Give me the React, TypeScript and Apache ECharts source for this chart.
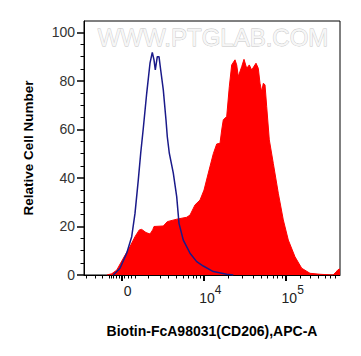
import React, { useEffect, useRef } from "react";
import * as echarts from "echarts";

// Histogram data in display channels (0..256 across the logicle axis) and relative counts
const redCh = [23, 27.7, 32.7, 39.3, 46, 51, 55.3, 57.7, 62, 66, 68.7, 70, 79.3, 83.3, 92.7, 102.7, 106, 111, 116, 120, 124.3, 129.3, 132.7, 136, 137.7, 139.3, 142.7, 145.3, 147.7, 151, 152.7, 154.3, 157.7, 160, 162.7, 165.3, 167.7, 172, 174.3, 176, 177.7, 179.3, 181, 182.7, 185.3, 189.3, 194.3, 199.3, 204.3, 211, 217.7, 226, 236, 249, 252, 254, 256];
const redCount = [0, 0.5, 2, 6.9, 11.7, 15.8, 18.6, 18.8, 17.5, 16.9, 18.6, 20, 20.2, 22, 23, 23.8, 24.7, 28.9, 30.9, 35, 42, 50, 54, 54.3, 59.8, 64, 65.3, 77.6, 86.6, 88.7, 86.6, 81.8, 85.9, 88.9, 85.2, 86.6, 84.5, 87.3, 85.2, 79, 75.6, 79, 78.4, 69.4, 55.7, 46, 33.7, 22.7, 14.4, 7.5, 2.8, 0.7, 0.3, 0, 1.2, 2.2, 2.5];

const blueCh = [29.3, 36, 42.7, 47.7, 51, 54.3, 56.7, 59.3, 62.7, 66, 68.3, 70, 71.3, 73.3, 75, 76.7, 79.3, 82, 83.3, 85.3, 89.3, 92.7, 95, 99.3, 106, 112.7, 119.3, 129.3, 142.7, 149.3];
const blueCount = [0, 2.8, 9, 15.8, 25.4, 39.2, 50.2, 60.5, 74.9, 87.3, 91.8, 88.7, 84.5, 90, 90, 84.5, 76.3, 63.9, 57, 50.2, 42, 32.3, 21.3, 14.4, 9, 5.5, 3.7, 1.4, 0.3, 0];

// Axis ticks (channel positions of the logicle axis)
const xMajorTicks = [37.7, 119.3, 201.7];
const xTickLabels = ["0", "10^4", "10^5"];
const xMinorTicks = [2, 11, 18.7, 25, 27, 29, 32, 35.5, 40.5, 44.3, 47.7, 51, 64.3, 76, 84.3, 92.7, 99.3, 104.3, 109.3, 112.7, 116, 144, 158.6, 169, 177, 183.4, 189, 193.7, 197.9, 216, 226.5, 234, 241, 246.5, 251.3];
const yMajorTicks = [0, 20, 40, 60, 80, 100];
const yMinorTicks = [5, 10, 15, 25, 30, 35, 45, 50, 55, 65, 70, 75, 85, 90, 95];

const FONT = "'Liberation Sans', Arial, Helvetica, sans-serif";

function zip(xs: number[], ys: number[]) {
  return xs.map((x, i) => [x, ys[i]]);
}

export default function App() {
  const ref = useRef<HTMLDivElement>(null);
  useEffect(() => {
    if (!ref.current) return;
    const chart = echarts.init(ref.current, undefined, { renderer: "svg" });
    const xMin = 0;
    const xMax = 256;
    const yMax = 104.7;
    chart.setOption({
      animation: false,
      backgroundColor: "#ffffff",
      grid: {
        left: 84,
        right: 21,
        top: 21,
        bottom: 81,
        show: true,
        borderColor: "#000",
        borderWidth: 1,
        backgroundColor: "transparent",
      },
      graphic: [
        {
          type: "text",
          x: 213,
          y: 37,
          z: 0,
          style: {
            text: "WWW.PTGLAB.COM",
            font: `24px ${FONT}`,
            fill: "#f6f6f6",
            stroke: "#c4c4c4",
            lineWidth: 0.8,
            textAlign: "center",
            textVerticalAlign: "middle",
          },
        },
      ],
      xAxis: [
        {
          type: "value",
          min: xMin,
          max: xMax,
          position: "bottom",
          splitLine: { show: false },
          axisLine: { show: true, onZero: false, lineStyle: { color: "#000", width: 1 } },
          axisTick: { show: true, customValues: xMajorTicks, length: 6, lineStyle: { color: "#000", width: 2 } },
          axisLabel: {
            show: true,
            customValues: xMajorTicks,
            margin: 9,
            formatter: (v: number) => {
              let idx = 0;
              let best = Infinity;
              xMajorTicks.forEach((t, i) => {
                const d = Math.abs(t - v);
                if (d < best) { best = d; idx = i; }
              });
              const lab = xTickLabels[idx];
              if (lab.indexOf("^") >= 0) {
                const [b, s] = lab.split("^");
                return `{b|${b}}{s|${s}}`;
              }
              return `{z|${lab}}`;
            },
            rich: {
              b: { fontSize: 14, fontFamily: FONT, color: "#222", verticalAlign: "bottom", padding: [0, 0, 0, 14] },
              s: { fontSize: 12, fontFamily: FONT, color: "#222", verticalAlign: "bottom", padding: [0, 0, 9, 0] },
              z: { fontSize: 14, fontFamily: FONT, color: "#222", verticalAlign: "bottom", padding: [0, 0, 0, 12] },
            },
          },
          name: "Biotin-FcA98031(CD206),APC-A",
          nameLocation: "middle",
          nameGap: 49,
          nameTextStyle: { fontSize: 14, fontWeight: "bold", fontFamily: FONT, color: "#000" },
        },
        {
          type: "value",
          min: xMin,
          max: xMax,
          position: "bottom",
          splitLine: { show: false },
          axisLine: { show: false, onZero: false },
          axisTick: { show: true, customValues: xMinorTicks, length: 3.5, lineStyle: { color: "#000", width: 1 } },
          axisLabel: { show: false },
        },
      ],
      yAxis: [
        {
          type: "value",
          min: 0,
          max: yMax,
          position: "left",
          splitLine: { show: false },
          axisLine: { show: true, onZero: false, lineStyle: { color: "#000", width: 1 } },
          axisTick: { show: true, customValues: yMajorTicks, length: 7, lineStyle: { color: "#000", width: 1.5 } },
          axisLabel: {
            show: true,
            customValues: yMajorTicks,
            margin: 9,
            fontSize: 14,
            fontFamily: FONT,
            color: "#333",
          },
          name: "Relative Cell Number",
          nameLocation: "middle",
          nameGap: 49,
          nameTextStyle: { fontSize: 13.5, fontWeight: "bold", fontFamily: FONT, color: "#000" },
        },
        {
          type: "value",
          min: 0,
          max: yMax,
          position: "left",
          splitLine: { show: false },
          axisLine: { show: false, onZero: false },
          axisTick: { show: true, customValues: yMinorTicks, length: 3.5, lineStyle: { color: "#000", width: 1 } },
          axisLabel: { show: false },
        },
      ],
      series: [
        {
          type: "line",
          name: "CD206",
          data: zip(redCh, redCount),
          symbol: "none",
          lineStyle: { color: "#ff0000", width: 1 },
          areaStyle: { color: "#ff0000", opacity: 1 },
          itemStyle: { color: "#ff0000" },
          z: 2,
        },
        {
          type: "line",
          name: "Control",
          data: zip(blueCh, blueCount),
          symbol: "none",
          lineStyle: { color: "#1a1a8a", width: 1.5 },
          itemStyle: { color: "#1a1a8a" },
          z: 3,
        },
      ],
    });
    return () => chart.dispose();
  }, []);
  return (
    <div
      ref={ref}
      style={{ position: "fixed", left: 0, top: 0, width: 361, height: 356, background: "#fff" }}
    />
  );
}
